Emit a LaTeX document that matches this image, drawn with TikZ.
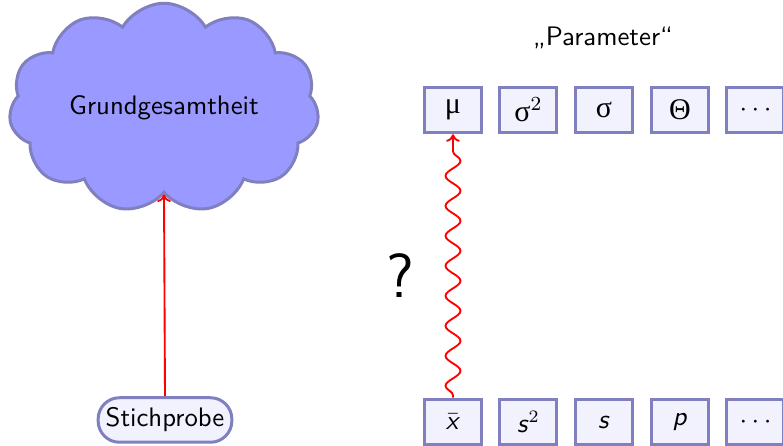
\documentclass[tikz,border=0pt]{standalone}
\usepackage{fontspec}
\usetikzlibrary{shapes.symbols,decorations.pathmorphing,arrows.meta}
\newfontfamily\grk{Liberation Serif}
\definecolor{cloudfill}{RGB}{153,153,255}
\definecolor{edgeblue}{RGB}{128,128,192}
\definecolor{boxfill}{RGB}{242,242,255}
\begin{document}
\begin{tikzpicture}[x=0.4pt,y=-0.4pt,font=\sffamily\fontsize{10.7}{13}\selectfont,
  valbox/.style={draw=edgeblue,fill=boxfill,line width=1.2pt,minimum width=22.8pt,minimum height=18.2pt,inner sep=0pt},
  redarrow/.style={draw=red,line width=0.75pt,-{To[length=3pt,width=5.5pt]}}]
\useasboundingbox (0,0) rectangle (783,446);
\node[cloud,cloud puffs=11,cloud puff arc=120,aspect=1.55,draw=edgeblue,fill=cloudfill,line width=1.2pt,minimum width=124pt,minimum height=81pt,inner sep=0pt] (cloud) at (164,108) {Grundgesamtheit};
\node[draw=edgeblue,fill=boxfill,line width=1.2pt,rounded corners=8.5pt,minimum height=17.8pt,inner xsep=3pt] (stich) at (165,420) {Stichprobe};
\draw[redarrow] (stich.north) -- (cloud.south);
\node (par) at (603,38) {„Parameter“};
\node[valbox] (mu) at (453,110) {\grk\large μ};
\node[valbox] (s2) at (528.5,110) {\grk\large σ$^2$};
\node[valbox] (sg) at (604,110) {\grk\large σ};
\node[valbox] (th) at (680,110) {\grk\large Θ};
\node[valbox] (d1) at (755.5,110) {$\cdots$};
\node[valbox] (xb) at (453,422) {$\bar{\mbox{\textit{x}}}$};
\node[valbox] (ss) at (528.5,422) {\textit{s}$^2$};
\node[valbox] (s) at (604,422) {\textit{s}};
\node[valbox] (p) at (680,422) {\textit{p}};
\node[valbox] (d2) at (755.5,422) {$\cdots$};
\draw[redarrow,decorate,decoration={snake,amplitude=3pt,segment length=12pt,post length=2pt,pre length=1pt}] (xb.north) -- (mu.south);
\node[font=\sffamily\fontsize{25}{30}\selectfont] (q) at (400,276) {?};
\end{tikzpicture}
\end{document}
